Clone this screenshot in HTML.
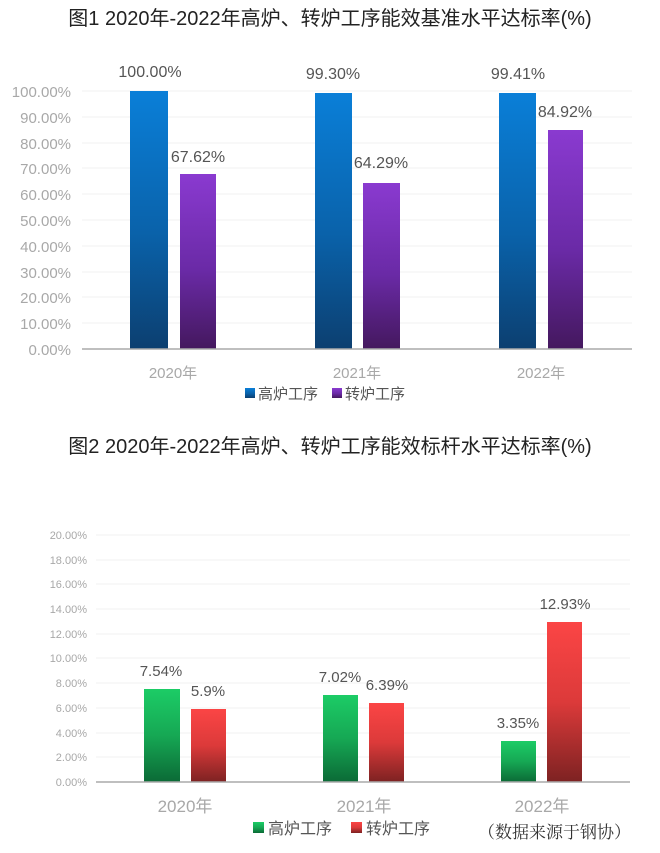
<!DOCTYPE html>
<html><head><meta charset="utf-8"><style>
body{margin:0;background:#fff;width:660px;height:848px;overflow:hidden;font-family:"Liberation Sans","Noto Sans CJK SC",sans-serif}
</style></head><body>
<svg width="660" height="848" xmlns="http://www.w3.org/2000/svg" font-family="Liberation Sans, Noto Sans CJK SC, sans-serif">
<defs>
<linearGradient id="b" x1="0" y1="0" x2="0" y2="1"><stop offset="0" stop-color="#0a7fd8"/><stop offset="0.55" stop-color="#0a62aa"/><stop offset="1" stop-color="#0c3f70"/></linearGradient>
<linearGradient id="p" x1="0" y1="0" x2="0" y2="1"><stop offset="0" stop-color="#8a3ad0"/><stop offset="0.55" stop-color="#6a2aa6"/><stop offset="1" stop-color="#44185e"/></linearGradient>
<linearGradient id="g" x1="0" y1="0" x2="0" y2="1"><stop offset="0" stop-color="#1ccc66"/><stop offset="0.5" stop-color="#16a854"/><stop offset="1" stop-color="#0b6a36"/></linearGradient>
<linearGradient id="r" x1="0" y1="0" x2="0" y2="1"><stop offset="0" stop-color="#fb4545"/><stop offset="0.5" stop-color="#dc3a3a"/><stop offset="1" stop-color="#7d2222"/></linearGradient>
</defs>
<text x="330" y="25" font-size="20" text-anchor="middle" fill="#222">图1 2020年-2022年高炉、转炉工序能效基准水平达标率(%)</text>
<g stroke="#f0f0f0" stroke-width="1">
<line x1="82" y1="91" x2="632" y2="91"/><line x1="82" y1="117" x2="632" y2="117"/><line x1="82" y1="143" x2="632" y2="143"/><line x1="82" y1="168" x2="632" y2="168"/><line x1="82" y1="194" x2="632" y2="194"/><line x1="82" y1="220" x2="632" y2="220"/><line x1="82" y1="246" x2="632" y2="246"/><line x1="82" y1="272" x2="632" y2="272"/><line x1="82" y1="297" x2="632" y2="297"/><line x1="82" y1="323" x2="632" y2="323"/>
</g>
<g font-size="15" fill="#a8a8a8" text-anchor="end">
<text x="71" y="97">100.00%</text><text x="71" y="123">90.00%</text><text x="71" y="149">80.00%</text><text x="71" y="174">70.00%</text><text x="71" y="200">60.00%</text><text x="71" y="226">50.00%</text><text x="71" y="252">40.00%</text><text x="71" y="278">30.00%</text><text x="71" y="303">20.00%</text><text x="71" y="329">10.00%</text><text x="71" y="355">0.00%</text>
</g>
<rect x="130" y="91" width="38" height="258" fill="url(#b)"/>
<rect x="180" y="174" width="36" height="175" fill="url(#p)"/>
<rect x="315" y="93" width="37" height="256" fill="url(#b)"/>
<rect x="363" y="183" width="37" height="166" fill="url(#p)"/>
<rect x="499" y="93" width="37" height="256" fill="url(#b)"/>
<rect x="548" y="130" width="35" height="219" fill="url(#p)"/>
<line x1="82" y1="349" x2="632" y2="349" stroke="#aaa" stroke-width="1.5"/>
<g font-size="16" fill="#555" text-anchor="middle">
<text x="150" y="77">100.00%</text><text x="198" y="162">67.62%</text>
<text x="333" y="79">99.30%</text><text x="381" y="168">64.29%</text>
<text x="518" y="79">99.41%</text><text x="565" y="117">84.92%</text>
</g>
<g font-size="15" fill="#a8a8a8" text-anchor="middle">
<text x="173" y="378">2020年</text><text x="357" y="378">2021年</text><text x="541" y="378">2022年</text>
</g>
<rect x="245" y="388" width="10" height="10" fill="url(#b)"/>
<text x="258" y="399" font-size="15" fill="#555">高炉工序</text>
<rect x="332" y="388" width="10" height="10" fill="url(#p)"/>
<text x="345" y="399" font-size="15" fill="#555">转炉工序</text>

<text x="330" y="453" font-size="20" text-anchor="middle" fill="#222">图2 2020年-2022年高炉、转炉工序能效标杆水平达标率(%)</text>
<g stroke="#f2f2f2" stroke-width="1">
<line x1="96" y1="535" x2="630" y2="535"/><line x1="96" y1="560" x2="630" y2="560"/><line x1="96" y1="584" x2="630" y2="584"/><line x1="96" y1="609" x2="630" y2="609"/><line x1="96" y1="634" x2="630" y2="634"/><line x1="96" y1="658" x2="630" y2="658"/><line x1="96" y1="683" x2="630" y2="683"/><line x1="96" y1="708" x2="630" y2="708"/><line x1="96" y1="733" x2="630" y2="733"/><line x1="96" y1="757" x2="630" y2="757"/>
</g>
<g font-size="11" fill="#a8a8a8" text-anchor="end">
<text x="87" y="539">20.00%</text><text x="87" y="564">18.00%</text><text x="87" y="588">16.00%</text><text x="87" y="613">14.00%</text><text x="87" y="638">12.00%</text><text x="87" y="662">10.00%</text><text x="87" y="687">8.00%</text><text x="87" y="712">6.00%</text><text x="87" y="737">4.00%</text><text x="87" y="761">2.00%</text><text x="87" y="786">0.00%</text>
</g>
<rect x="144" y="689" width="36" height="93" fill="url(#g)"/>
<rect x="191" y="709" width="35" height="73" fill="url(#r)"/>
<rect x="323" y="695" width="35" height="87" fill="url(#g)"/>
<rect x="369" y="703" width="35" height="79" fill="url(#r)"/>
<rect x="501" y="741" width="35" height="41" fill="url(#g)"/>
<rect x="547" y="622" width="35" height="160" fill="url(#r)"/>
<line x1="96" y1="782" x2="630" y2="782" stroke="#aaa" stroke-width="1.5"/>
<g font-size="15" fill="#555" text-anchor="middle">
<text x="161" y="676">7.54%</text><text x="208" y="696">5.9%</text>
<text x="340" y="682">7.02%</text><text x="387" y="690">6.39%</text>
<text x="518" y="728">3.35%</text><text x="565" y="609">12.93%</text>
</g>
<g font-size="17" fill="#a8a8a8" text-anchor="middle">
<text x="185" y="812">2020年</text><text x="364" y="812">2021年</text><text x="542" y="812">2022年</text>
</g>
<rect x="253" y="822" width="11" height="11" fill="url(#g)"/>
<text x="268" y="834" font-size="16" fill="#555">高炉工序</text>
<rect x="351" y="822" width="11" height="11" fill="url(#r)"/>
<text x="366" y="834" font-size="16" fill="#555">转炉工序</text>
<text x="478" y="838" font-size="17" fill="#333" font-family="Noto Serif CJK SC, serif">（数据来源于钢协）</text>
</svg>
</body></html>
